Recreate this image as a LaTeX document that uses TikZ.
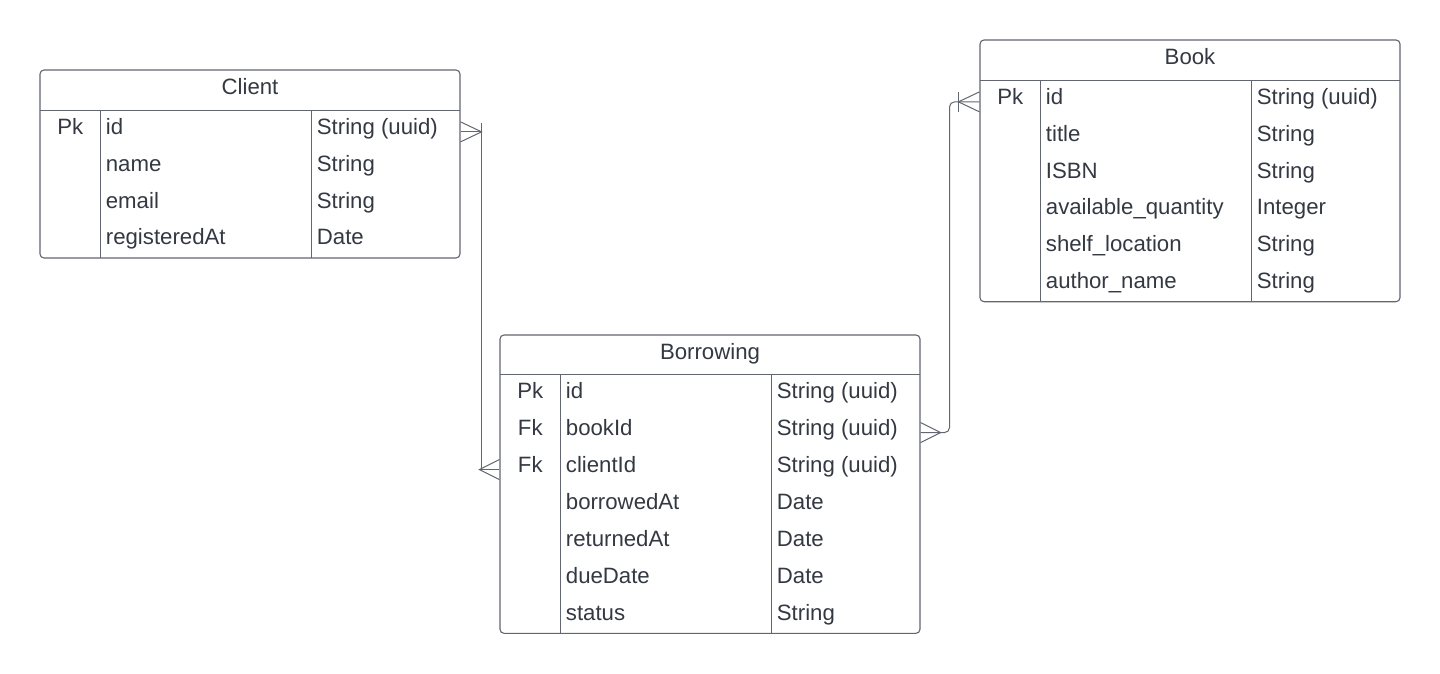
\documentclass[tikz,border=0pt]{standalone}
\usepackage{fontspec}
\setmainfont{Liberation Sans}
\usetikzlibrary{calc}
\definecolor{ink}{RGB}{51,56,66}
\definecolor{edge}{RGB}{98,102,112}

\begin{document}
\begin{tikzpicture}[x=1pt,y=-1pt,
  tbl/.style = {rectangle,draw=edge,line width=1.1pt,rounded corners=4pt,inner sep=0pt},
  hd/.style = {anchor=base,text=ink,inner sep=0pt,font=\fontsize{22.2}{26}\selectfont},
  keycol/.style = {anchor=base,text=ink,inner sep=0pt,font=\fontsize{22.2}{26}\selectfont},
  fld/.style = {anchor=base west,text=ink,inner sep=0pt,font=\fontsize{22.2}{26}\selectfont},
  sep/.style = {draw=edge,line width=1.1pt},
  rel/.style = {draw=edge,line width=1pt}]

\useasboundingbox (0,0) rectangle (1440,674);

% Client
\node[tbl, minimum width=420pt, minimum height=188pt] (client) at (250,164) {};
\draw[sep] (40,110.7) -- (460,110.7);
\draw[sep] (100.7,110.7) -- (100.7,258);
\draw[sep] (311.7,110.7) -- (311.7,258);
\node[hd] (client-title) at (250,95) {Client};
\node[keycol] (cl-pk) at (70.3,134.5) {Pk};
\node[fld] (cl-id) at (105.7,134.5) {id};
\node[fld] (cl-name) at (105.7,171.3) {name};
\node[fld] (cl-email) at (105.7,208.1) {email};
\node[fld] (cl-reg) at (105.7,244.9) {registeredAt};
\node[fld] (cl-id-t) at (316.7,134.5) {String (uuid)};
\node[fld] (cl-name-t) at (316.7,171.3) {String};
\node[fld] (cl-email-t) at (316.7,208.1) {String};
\node[fld] (cl-reg-t) at (316.7,244.9) {Date};

% Book
\node[tbl, minimum width=420pt, minimum height=261.7pt] (book) at (1190,170.85) {};
\draw[sep] (980,80.7) -- (1400,80.7);
\draw[sep] (1040.7,80.7) -- (1040.7,301.7);
\draw[sep] (1251.7,80.7) -- (1251.7,301.7);
\node[hd] (book-title) at (1190,65) {Book};
\node[keycol] (bk-pk) at (1010.3,104.5) {Pk};
\node[fld] (bk-id) at (1045.7,104.5) {id};
\node[fld] (bk-title) at (1045.7,141.3) {title};
\node[fld] (bk-isbn) at (1045.7,178.1) {ISBN};
\node[fld] (bk-qty) at (1045.7,214.9) {available\_quantity};
\node[fld] (bk-shelf) at (1045.7,251.7) {shelf\_location};
\node[fld] (bk-author) at (1045.7,288.5) {author\_name};
\node[fld] (bk-id-t) at (1256.7,104.5) {String (uuid)};
\node[fld] (bk-title-t) at (1256.7,141.3) {String};
\node[fld] (bk-isbn-t) at (1256.7,178.1) {String};
\node[fld] (bk-qty-t) at (1256.7,214.9) {Integer};
\node[fld] (bk-shelf-t) at (1256.7,251.7) {String};
\node[fld] (bk-author-t) at (1256.7,288.5) {String};

% Borrowing
\node[tbl, minimum width=420pt, minimum height=298.3pt] (borrow) at (710,484.15) {};
\draw[sep] (500,374.3) -- (920,374.3);
\draw[sep] (560.7,374.3) -- (560.7,633.3);
\draw[sep] (771.7,374.3) -- (771.7,633.3);
\node[hd] (borrow-title) at (710,359.3) {Borrowing};
\node[keycol] (bw-pk) at (530.3,398.2) {Pk};
\node[keycol] (bw-fk1) at (530.3,435.2) {Fk};
\node[keycol] (bw-fk2) at (530.3,472.2) {Fk};
\node[fld] (bw-id) at (565.7,398.2) {id};
\node[fld] (bw-book) at (565.7,435.2) {bookId};
\node[fld] (bw-client) at (565.7,472.2) {clientId};
\node[fld] (bw-out) at (565.7,509.2) {borrowedAt};
\node[fld] (bw-back) at (565.7,546.2) {returnedAt};
\node[fld] (bw-due) at (565.7,583.2) {dueDate};
\node[fld] (bw-status) at (565.7,620.2) {status};
\node[fld] (bw-id-t) at (776.7,398.2) {String (uuid)};
\node[fld] (bw-book-t) at (776.7,435.2) {String (uuid)};
\node[fld] (bw-client-t) at (776.7,472.2) {String (uuid)};
\node[fld] (bw-out-t) at (776.7,509.2) {Date};
\node[fld] (bw-back-t) at (776.7,546.2) {Date};
\node[fld] (bw-due-t) at (776.7,583.2) {Date};
\node[fld] (bw-status-t) at (776.7,620.2) {String};

% Client -- Borrowing
\draw[rel] (client.east |- cl-id.mid) -- ++(21,0) |- (borrow.west |- bw-client.mid);
\draw[rel] (client.east |- cl-id.mid) ++(0,-10) -- ++(21,10) -- ++(-21,10);
\draw[rel] (client.east |- cl-id.mid) ++(21,-9) -- ++(0,9);
\draw[rel] (borrow.west |- bw-client.mid) ++(0,-10) -- ++(-20,10) -- ++(20,10);

% Borrowing -- Book
\draw[rel, rounded corners=5pt] (borrow.east |- bw-book.mid) -- ++(29,0) |- (book.west |- bk-id.mid);
\draw[rel] (borrow.east |- bw-book.mid) ++(0,-10) -- ++(20,10) -- ++(-20,10);
\draw[rel] (book.west |- bk-id.mid) ++(0,-10) -- ++(-21,10) -- ++(21,10);
\draw[rel] (book.west |- bk-id.mid) ++(-21,-10) -- ++(0,20);

\end{tikzpicture}
\end{document}
